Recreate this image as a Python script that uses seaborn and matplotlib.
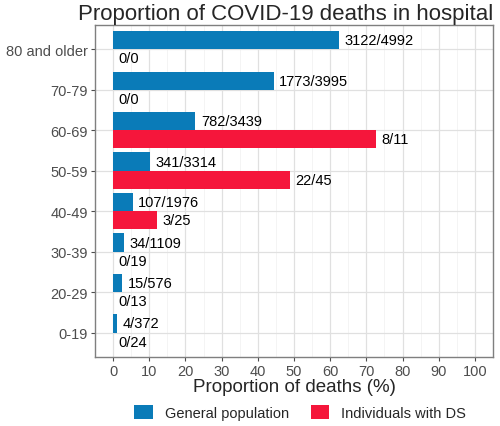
import pandas as pd
import matplotlib
matplotlib.use("Agg")
import matplotlib.pyplot as plt
import seaborn as sns

# Data
age_groups = ['80 and older', '70-79', '60-69', '50-59', '40-49', '30-39', '20-29', '0-19']
gen_pct = [62.5, 44.4, 22.7, 10.3, 5.4, 3.1, 2.6, 1.1]
gen_lab = ['3122/4992', '1773/3995', '782/3439', '341/3314', '107/1976', '34/1109', '15/576', '4/372']
ds_pct = [0, 0, 72.7, 48.9, 12.0, 0, 0, 0]
ds_lab = ['0/0', '0/0', '8/11', '22/45', '3/25', '0/19', '0/13', '0/24']
groups = ['General population', 'Individuals with DS']

BLUE = "#0A7BB8"
RED = "#F5163B"

df = pd.DataFrame({
    'age': age_groups * 2,
    'pct': gen_pct + ds_pct,
    'group': [groups[0]] * len(age_groups) + [groups[1]] * len(age_groups),
})

sns.set_theme(style="whitegrid")
plt.rcParams['font.family'] = ['Liberation Sans', 'DejaVu Sans']

fig = plt.figure(figsize=(5, 4.27), dpi=100)
ax = fig.add_axes([0.19, 0.162, 0.796, 0.777])

sns.barplot(data=df, y='age', x='pct', hue='group', order=age_groups,
            hue_order=groups, palette=[BLUE, RED], width=0.9,
            orient='h', ax=ax, legend=True, saturation=1, linewidth=0)

for cont, labs in zip(ax.containers, [gen_lab, ds_lab]):
    ax.bar_label(cont, labels=labs, padding=4, fontsize=10.5, color='black')

ax.set_xlim(-5, 105)
ax.set_ylim(7.6, -0.6)
ax.set_xticks(range(0, 101, 10))
ax.set_xticks(range(5, 100, 10), minor=True)
ax.grid(True, which='major', color='#E0E0E0', linewidth=0.9)
ax.grid(True, which='minor', axis='x', color='#F0F0F0', linewidth=0.5)
ax.set_facecolor('white')
for s in ax.spines.values():
    s.set_visible(True)
    s.set_color('#7F7F7F')
    s.set_linewidth(1)
ax.tick_params(axis='both', colors='#4D4D4D', labelsize=10.5, length=3,
               width=0.8, which='major', left=True, bottom=True, pad=2)
ax.tick_params(which='minor', length=0)
ax.set_ylabel('')
ax.set_xlabel('Proportion of deaths (%)', fontsize=13.5, labelpad=0)
ax.set_title('Proportion of COVID-19 deaths in hospital', fontsize=16,
             loc='right', pad=4)

ax.legend(loc='center', bbox_to_anchor=(0.515, -0.168), ncol=2,
          frameon=False, fontsize=10.5, handlelength=1.3, handleheight=1.1,
          columnspacing=1.5, handletextpad=0.8)

fig.savefig('out.png', dpi=100)
